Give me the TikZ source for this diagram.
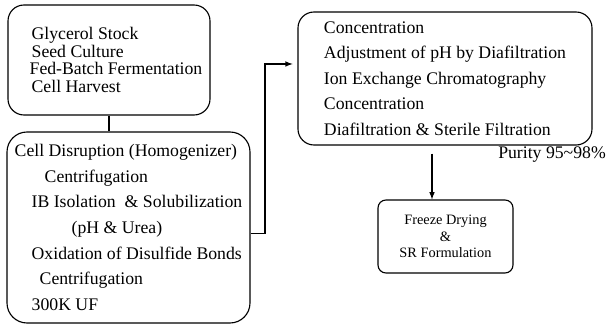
\documentclass[tikz,border=0pt]{standalone}
\usepackage{fontspec}
\setmainfont{Liberation Serif}
\usepackage{xcolor}
\usetikzlibrary{arrows,shapes,positioning,fit,backgrounds}
\newcommand{\lpad}[1]{\hspace*{#1}}

\begin{document}
\begin{tikzpicture}[
    stage/.style={draw, thick, rounded corners=0.4cm, align=left, inner sep=0pt},
    bigtext/.style={font=\fontsize{12.6}{18.2}\selectfont},
    flow/.style={thick, -latex}
]
\useasboundingbox (0,0) rectangle (15.15,8.15);

% Fermentation
\node[stage, minimum width=5.05cm, minimum height=2.75cm, font=\fontsize{12.6}{12.6}\selectfont] (ferment) at (2.725,6.65)
    {\lpad{0.4cm}Glycerol Stock\\ \lpad{0.4cm}Seed Culture\\ \lpad{0.35cm}Fed-Batch Fermentation\\ \lpad{0.4cm}Cell Harvest};

% Recovery & refolding
\node[stage, bigtext, rounded corners=0.5cm, minimum width=6.075cm, minimum height=4.775cm] (refold) at (3.2125,2.4625)
    {Cell Disruption (Homogenizer)\\ \lpad{0.75cm}Centrifugation\\ \lpad{0.425cm}IB Isolation~ \& Solubilization\\
     \lpad{1.425cm}(pH \& Urea)\\ \lpad{0.425cm}Oxidation of Disulfide Bonds\\ \lpad{0.625cm}Centrifugation\\ \lpad{0.425cm}300K UF};

% Purification
\node[stage, bigtext, minimum width=7.35cm, minimum height=3.325cm] (purify) at (11.125,6.1875)
    {Concentration\\ Adjustment of pH by Diafiltration\\ Ion Exchange Chromatography\\ Concentration\\ Diafiltration \& Sterile Filtration};
\node[bigtext, anchor=west, inner sep=0pt] (purity) at (12.45,4.275) {Purity 95\textasciitilde98\%};

% Final product
\node[stage, align=center, rounded corners=0.2cm, minimum width=3.375cm, minimum height=1.825cm,
      font=\fontsize{10.2}{11.7}\selectfont] (dry) at (11.1375,2.2375)
    {Freeze Drying\\ \&\\ SR Formulation};

% Connections
\draw[thick] (ferment.south) -- (ferment.south |- refold.north);
\coordinate (bend) at (6.625,6.55);
\draw[flow, shorten >=0.12cm] ([yshift=-0.14cm]refold.east) -| (bend) -- (purify.west |- bend);
\coordinate (drop) at (10.8,0);
\draw[flow, shorten <=0.2cm] (purify.south -| drop) -- (dry.north -| drop);
\end{tikzpicture}
\end{document}
